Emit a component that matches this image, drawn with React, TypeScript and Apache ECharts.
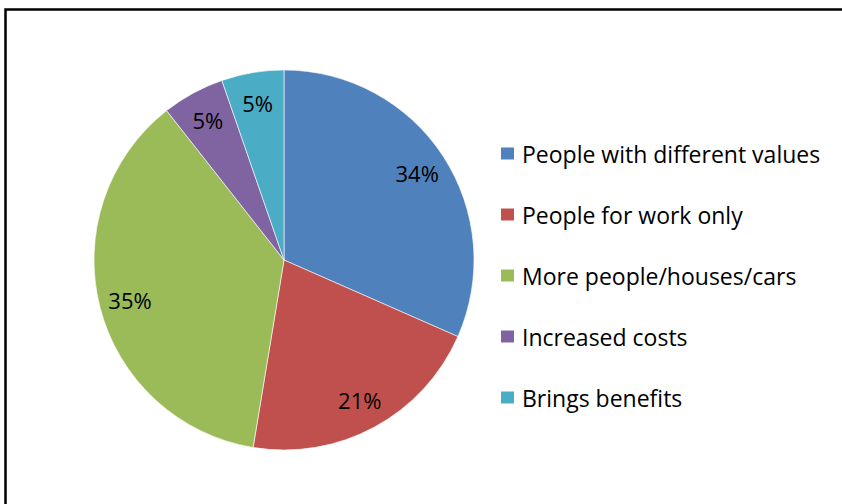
import React, { useEffect, useRef } from "react";
import * as echarts from "echarts";

const categories = [
  "People with different values",
  "People for work only",
  "More people/houses/cars",
  "Increased costs",
  "Brings benefits",
];
// slice shares as drawn
const values = [31.6, 21.0, 36.8, 5.3, 5.3];
// data labels as printed on the chart
const labelTexts = ["34%", "21%", "35%", "5%", "5%"];
const colors = ["#4F81BD", "#C0504D", "#9BBB59", "#8064A2", "#4BACC6"];

const FONT = "'Open Sans', Lato, sans-serif";

export default function App() {
  const ref = useRef<HTMLDivElement>(null);
  useEffect(() => {
    if (!ref.current) return;
    const chart = echarts.init(ref.current, undefined, { renderer: "svg" });
    const R = 190;
    chart.setOption({
      animation: false,
      backgroundColor: "#ffffff",
      color: colors,
      legend: {
        orient: "vertical",
        left: 499,
        top: 142,
        padding: 0,
        itemWidth: 15,
        itemHeight: 14,
        itemGap: 38,
        icon: "rect",
        selectedMode: false,
        textStyle: {
          fontFamily: FONT,
          fontSize: 23,
          color: "#000",
          padding: [0, 0, 0, 2],
        },
        data: categories,
      },
      graphic: [
        {
          type: "polyline",
          shape: {
            points: [
              [5.5, 600],
              [5.5, 9.5],
              [900, 9.5],
            ],
          },
          style: { fill: "none", stroke: "#000", lineWidth: 2.5 },
          silent: true,
          z: 100,
        },
      ],
      series: [
        {
          type: "pie",
          center: [284, 260],
          radius: [0, R],
          startAngle: 90,
          clockwise: true,
          label: { show: false },
          labelLine: { show: false },
          itemStyle: { borderColor: "#ffffff", borderWidth: 0.6 },
          emphasis: { disabled: true },
          data: categories.map((name, i) => ({ name, value: values[i] })),
        },
        {
          type: "pie",
          center: [284, 260],
          radius: [Math.round(R * 0.64), R],
          startAngle: 90,
          clockwise: true,
          silent: true,
          itemStyle: { color: "rgba(0,0,0,0)" },
          emphasis: { disabled: true },
          labelLine: { show: false },
          label: {
            show: true,
            position: "inside",
            fontFamily: FONT,
            fontSize: 22,
            color: "#000",
            formatter: (p: any) => labelTexts[p.dataIndex],
          },
          data: categories.map((name, i) => ({ name, value: values[i] })),
        },
      ],
    });
    return () => chart.dispose();
  }, []);
  return (
    <div
      ref={ref}
      style={{ position: "fixed", left: 0, top: 0, width: 842, height: 504 }}
    />
  );
}
